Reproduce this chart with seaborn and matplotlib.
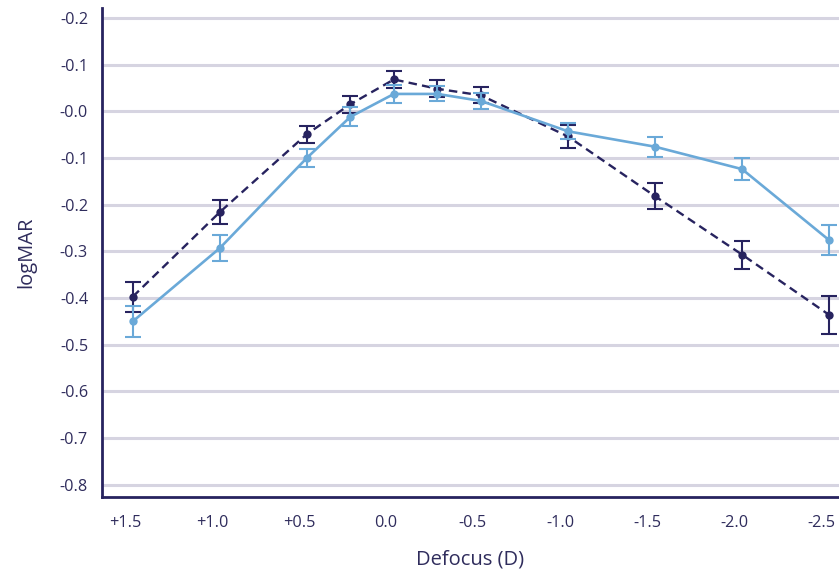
import matplotlib
matplotlib.use("Agg")
import matplotlib.pyplot as plt
import seaborn as sns
import pandas as pd
import numpy as np

# ---- data ----
defocus = [1.5, 1.0, 0.5, 0.25, 0.0, -0.25, -0.5, -1.0, -1.5, -2.0, -2.5]
dark_mean = [0.397, 0.216, 0.049, -0.015, -0.068, -0.048, -0.034, 0.054, 0.182, 0.307, 0.436]
dark_err = [0.032, 0.025, 0.018, 0.018, 0.018, 0.018, 0.017, 0.024, 0.028, 0.030, 0.040]
light_mean = [0.450, 0.293, 0.100, 0.012, -0.037, -0.037, -0.022, 0.043, 0.076, 0.124, 0.276]
light_err = [0.033, 0.027, 0.020, 0.020, 0.019, 0.016, 0.018, 0.017, 0.021, 0.024, 0.032]
xtick_values = [1.5, 1.0, 0.5, 0.0, -0.5, -1.0, -1.5, -2.0, -2.5]
xtick_labels = ["+1.5", "+1.0", "+0.5", "0.0", "-0.5", "-1.0", "-1.5", "-2.0", "-2.5"]
ytick_values = [-0.2, -0.1, 0.0, 0.1, 0.2, 0.3, 0.4, 0.5, 0.6, 0.7, 0.8]
ytick_labels = ["-0.2", "-0.1", "-0.0", "-0.1", "-0.2", "-0.3", "-0.4", "-0.5", "-0.6", "-0.7", "-0.8"]

NAVY = "#27235f"
LIGHT = "#6aa9d8"
GRID = "#d6d4e1"
TEXT = "#2f2c5c"

sns.set_theme(style="white")
plt.rcParams["font.family"] = ["Open Sans", "DejaVu Sans"]

df = pd.DataFrame({
    "defocus": defocus * 2,
    "logmar": dark_mean + light_mean,
    "series": ["dark"] * len(defocus) + ["light"] * len(defocus),
})

fig = plt.figure(figsize=(8.39, 5.70), dpi=100)
ax = fig.add_axes([102 / 839, 1 - 497 / 570, 1 - 102 / 839, (497 - 8) / 570])

for y in ytick_values:
    ax.axhline(y, color=GRID, lw=2.2, zorder=0)

# dark series (dashed)
ax.errorbar(defocus, dark_mean, yerr=dark_err, fmt="none", ecolor=NAVY,
            elinewidth=1.5, capsize=5.5, capthick=1.5, zorder=2)
sns.lineplot(data=df[df.series == "dark"], x="defocus", y="logmar", ax=ax,
             color=NAVY, lw=1.7, marker="o", markersize=6, markeredgewidth=0,
             sort=False, zorder=3, legend=False)
ax.lines[-1].set_dashes([3.6, 2.2])

# light series (solid)
ax.errorbar(defocus, light_mean, yerr=light_err, fmt="none", ecolor=LIGHT,
            elinewidth=1.5, capsize=5.5, capthick=1.5, zorder=4)
sns.lineplot(data=df[df.series == "light"], x="defocus", y="logmar", ax=ax,
             color=LIGHT, lw=1.9, marker="o", markersize=6, markeredgewidth=0,
             sort=False, zorder=5, legend=False)

tick_offset = 0.046
ax.set_xticks([v + tick_offset for v in xtick_values])
ax.set_xticklabels(xtick_labels)
ax.set_yticks(ytick_values)
ax.set_yticklabels(ytick_labels)

ax.set_xlim(1.677, -2.557)
ax.set_ylim(0.826, -0.221)

for s in ["top", "right"]:
    ax.spines[s].set_visible(False)
for s in ["left", "bottom"]:
    ax.spines[s].set_color(NAVY)
    ax.spines[s].set_linewidth(2)

ax.tick_params(axis="both", which="major", length=7, width=2, color=NAVY,
               labelcolor=TEXT, labelsize=11.7, direction="out", pad=6)
ax.tick_params(axis="y", pad=3)

ax.set_xlabel("Defocus (D)", fontsize=14.5, color=TEXT, labelpad=13)
ax.set_ylabel("logMAR", fontsize=14.5, color=TEXT, labelpad=17)
ax.grid(False)

fig.savefig("out.png", dpi=100)
